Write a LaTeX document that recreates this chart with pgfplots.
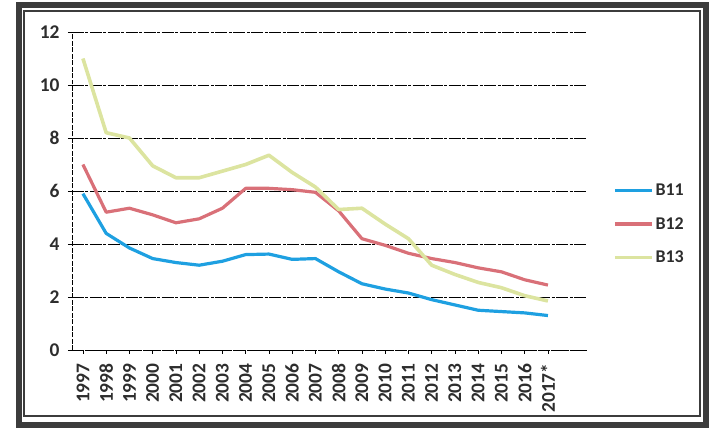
\documentclass[border=0pt]{standalone}
\usepackage{fontspec}
\setmainfont{Carlito}
\usepackage{pgfplots}
\pgfplotsset{compat=1.18}
\definecolor{cB11}{RGB}{30,160,225}
\definecolor{cB12}{RGB}{217,112,120}
\definecolor{cB13}{RGB}{220,228,160}
\definecolor{framec}{RGB}{60,60,60}
\definecolor{lab}{RGB}{45,45,45}
\begin{document}
\begin{tikzpicture}
\path[use as bounding box] (0bp,0bp) rectangle (713bp,436bp);
\draw[framec, line width=6bp] (19bp,11bp) rectangle (706bp,431bp);
\draw[framec, line width=1.5bp] (24bp,20bp) rectangle (700bp,425bp);
\begin{axis}[at={(72bp,86bp)}, anchor=south west, scale only axis,
  width=515bp, height=318bp,
  xmin=-0.47, xmax=21.68, ymin=0, ymax=12,
  ytick={0,2,4,6,8,10,12},
  xtick={0,...,20},
  xticklabels={1997,1998,1999,2000,2001,2002,2003,2004,2005,2006,2007,2008,2009,2010,2011,2012,2013,2014,2015,2016,2017*},
  axis x line*=bottom, axis y line*=left,
  ymajorgrids,
  major grid style={black, line width=0.7pt, dash pattern=on 12pt off 1.5pt on 3pt off 1.5pt},
  axis line style={black, line width=0.6pt, dash pattern=on 5pt off 1.5pt},
  tick style={black, line width=0.6pt, solid},
  major tick length=4bp, tick align=outside,
  ticklabel style={font=\fontsize{19.5}{19.5}\selectfont\bfseries, text=lab},
  /pgf/number format/assume math mode=true,
  xticklabel style={yshift=-6bp, rotate=90, anchor=east},
  yticklabel style={xshift=-5bp},
  legend style={at={(1.05,0.3963)}, anchor=west, draw=none, fill=none,
    font=\fontsize{18}{18}\selectfont\bfseries, text=lab, row sep=16.5bp, inner sep=0pt},
  legend cell align=left,
  legend image code/.code={\draw[#1] (0bp,0bp) -- (37bp,0bp);},
]
\addplot[cB11, line width=3.2bp, line join=round] coordinates {
(0,5.9) (1,4.4) (2,3.85) (3,3.45) (4,3.3) (5,3.2) (6,3.35) (7,3.6) (8,3.62) (9,3.42)
(10,3.45) (11,2.95) (12,2.5) (13,2.3) (14,2.15) (15,1.9) (16,1.7) (17,1.5) (18,1.45) (19,1.4) (20,1.3)};
\addlegendentry{B11}
\addplot[cB12, line width=3.2bp, line join=round] coordinates {
(0,7.0) (1,5.2) (2,5.35) (3,5.1) (4,4.8) (5,4.95) (6,5.35) (7,6.1) (8,6.1) (9,6.05)
(10,5.95) (11,5.25) (12,4.2) (13,3.95) (14,3.65) (15,3.45) (16,3.3) (17,3.1) (18,2.95) (19,2.65) (20,2.45)};
\addlegendentry{B12}
\addplot[cB13, line width=3.6bp, line join=round] coordinates {
(0,11.0) (1,8.2) (2,8.0) (3,6.95) (4,6.5) (5,6.5) (6,6.75) (7,7.0) (8,7.35) (9,6.7)
(10,6.15) (11,5.3) (12,5.35) (13,4.75) (14,4.2) (15,3.2) (16,2.85) (17,2.55) (18,2.35) (19,2.05) (20,1.85)};
\addlegendentry{B13}
\end{axis}
\end{tikzpicture}
\end{document}
